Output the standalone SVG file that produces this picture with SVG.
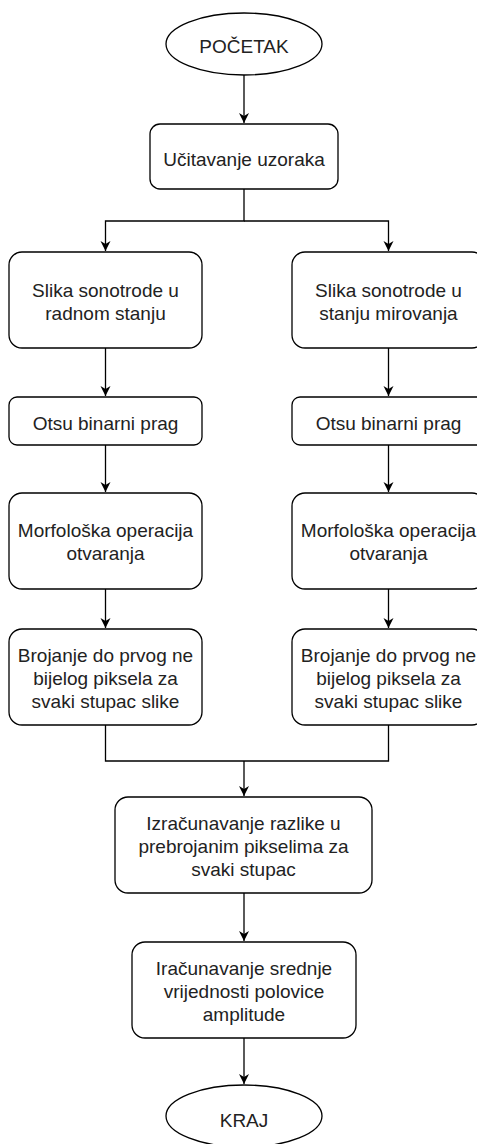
<svg xmlns="http://www.w3.org/2000/svg" width="477" height="1144" viewBox="0 0 477 1144">
<style>
.n{fill:#fff;stroke:#000;stroke-width:1.3}
.t{font-family:"Liberation Sans",Arial,sans-serif;font-size:19px;fill:#222;text-anchor:middle}
.c{fill:none;stroke:#000;stroke-width:1.3}
</style>
<defs>
<marker id="a" markerUnits="userSpaceOnUse" markerWidth="12" markerHeight="12" refX="10" refY="5" orient="auto">
<path d="M0,0 L10,5 L0,10 L3,5 z" fill="#000"/>
</marker>
</defs>
<rect width="477" height="1144" fill="#fff"/>
<g id="connectors">
<path class="c" d="M244,75 V123" marker-end="url(#a)"/>
<path class="c" d="M244,189 V221 H105.5 V251" marker-end="url(#a)"/>
<path class="c" d="M244,221 H388.5 V251" marker-end="url(#a)"/>
<path class="c" d="M105.5,348 V396" marker-end="url(#a)"/>
<path class="c" d="M105.5,445 V492" marker-end="url(#a)"/>
<path class="c" d="M105.5,589 V628" marker-end="url(#a)"/>
<path class="c" d="M388.5,348 V396" marker-end="url(#a)"/>
<path class="c" d="M388.5,445 V492" marker-end="url(#a)"/>
<path class="c" d="M388.5,589 V628" marker-end="url(#a)"/>
<path class="c" d="M105.5,725 V761 H388.5 V725"/>
<path class="c" d="M244,761 V796" marker-end="url(#a)"/>
<path class="c" d="M244,893 V941" marker-end="url(#a)"/>
<path class="c" d="M244,1038 V1084" marker-end="url(#a)"/>
</g>
<g id="start">
<ellipse class="n" cx="244" cy="44" rx="78" ry="31"/>
<text class="t" x="244" y="53">POČETAK</text>
</g>
<g id="ucitavanje">
<rect class="n" x="150" y="124" width="188" height="65" rx="10"/>
<text class="t" x="244" y="166">Učitavanje uzoraka</text>
</g>
<g id="slika-radno">
<rect class="n" x="9" y="252" width="193" height="96" rx="13"/>
<text class="t" x="105.5" y="297">Slika sonotrode u</text>
<text class="t" x="105.5" y="320">radnom stanju</text>
</g>
<g id="slika-mirovanje">
<rect class="n" x="292" y="252" width="193" height="96" rx="13"/>
<text class="t" x="388.5" y="297">Slika sonotrode u</text>
<text class="t" x="388.5" y="320">stanju mirovanja</text>
</g>
<g id="otsu-left">
<rect class="n" x="9" y="397" width="193" height="48" rx="8"/>
<text class="t" x="105.5" y="430">Otsu binarni prag</text>
</g>
<g id="otsu-right">
<rect class="n" x="292" y="397" width="193" height="48" rx="8"/>
<text class="t" x="388.5" y="430">Otsu binarni prag</text>
</g>
<g id="morf-left">
<rect class="n" x="9" y="493" width="193" height="96" rx="13"/>
<text class="t" x="105.5" y="537">Morfološka operacija</text>
<text class="t" x="105.5" y="560">otvaranja</text>
</g>
<g id="morf-right">
<rect class="n" x="292" y="493" width="193" height="96" rx="13"/>
<text class="t" x="388.5" y="537">Morfološka operacija</text>
<text class="t" x="388.5" y="560">otvaranja</text>
</g>
<g id="brojanje-left">
<rect class="n" x="9" y="629" width="193" height="96" rx="13"/>
<text class="t" x="105.5" y="662">Brojanje do prvog ne</text>
<text class="t" x="105.5" y="685">bijelog piksela za</text>
<text class="t" x="105.5" y="708">svaki stupac slike</text>
</g>
<g id="brojanje-right">
<rect class="n" x="292" y="629" width="193" height="96" rx="13"/>
<text class="t" x="388.5" y="662">Brojanje do prvog ne</text>
<text class="t" x="388.5" y="685">bijelog piksela za</text>
<text class="t" x="388.5" y="708">svaki stupac slike</text>
</g>
<g id="izracunavanje">
<rect class="n" x="115" y="797" width="257" height="96" rx="13"/>
<text class="t" x="243.5" y="830">Izračunavanje razlike u</text>
<text class="t" x="243.5" y="853">prebrojanim pikselima za</text>
<text class="t" x="243.5" y="876">svaki stupac</text>
</g>
<g id="iracunavanje">
<rect class="n" x="132" y="942" width="224" height="96" rx="13"/>
<text class="t" x="244" y="975">Iračunavanje srednje</text>
<text class="t" x="244" y="998">vrijednosti polovice</text>
<text class="t" x="244" y="1021">amplitude</text>
</g>
<g id="end">
<ellipse class="n" cx="244" cy="1116" rx="78" ry="31"/>
<text class="t" x="244" y="1127">KRAJ</text>
</g>
</svg>
